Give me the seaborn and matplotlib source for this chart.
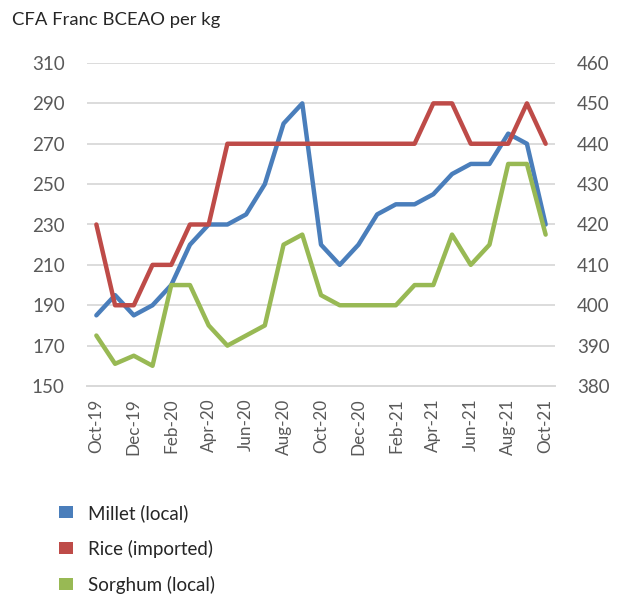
import matplotlib
matplotlib.use("Agg")
import matplotlib.pyplot as plt
import seaborn as sns
import numpy as np
import pandas as pd
from matplotlib.patches import Patch

months = ["Oct-19", "Nov-19", "Dec-19", "Jan-20", "Feb-20", "Mar-20", "Apr-20", "May-20",
          "Jun-20", "Jul-20", "Aug-20", "Sep-20", "Oct-20", "Nov-20", "Dec-20", "Jan-21",
          "Feb-21", "Mar-21", "Apr-21", "May-21", "Jun-21", "Jul-21", "Aug-21", "Sep-21", "Oct-21"]
millet = [185, 195, 185, 190, 200, 220, 230, 230, 235, 250, 280, 290, 220, 210, 220, 235,
          240, 240, 245, 255, 260, 260, 275, 270, 230]
sorghum = [175, 161, 165, 160, 200, 200, 180, 170, 175, 180, 220, 225, 195, 190, 190, 190,
           190, 200, 200, 225, 210, 220, 260, 260, 225]
rice = [420, 400, 400, 410, 410, 420, 420, 440, 440, 440, 440, 440, 440, 440, 440, 440,
        440, 440, 450, 450, 440, 440, 440, 450, 440]
left_ticks = [150, 170, 190, 210, 230, 250, 270, 290, 310]
right_ticks = [380, 390, 400, 410, 420, 430, 440, 450, 460]
labels = ["Millet (local)", "Rice (imported)", "Sorghum (local)"]
colors = ["#4A7EBB", "#BE4B48", "#98B954"]

sns.set_theme(style="white")
plt.rcParams['font.family'] = ['Lato', 'DejaVu Sans']
txt = "#595959"
grid = "#D9D9D9"

df = pd.DataFrame({"idx": np.arange(len(months)), "month": months,
                   "millet": millet, "sorghum": sorghum, "rice": rice})

fig = plt.figure(figsize=(6.3, 5.94), dpi=100)
ax = fig.add_axes([87/630, 1-386/594, (555-87)/630, (386-63)/594])
ax2 = ax.twinx()

sns.lineplot(data=df, x="idx", y="millet", ax=ax, color=colors[0], lw=3.2, zorder=3)
sns.lineplot(data=df, x="idx", y="sorghum", ax=ax, color=colors[2], lw=3.2, zorder=3)
sns.lineplot(data=df, x="idx", y="rice", ax=ax2, color=colors[1], lw=3.2, zorder=3)

ax.set_ylim(150, 310)
ax2.set_ylim(380, 460)
ax.set_xlim(-0.5, len(months) - 0.5)
ax.set_yticks(left_ticks)
ax2.set_yticks(right_ticks)
ax.set_xticks(np.arange(0, len(months), 2))
ax.set_xticklabels(months[::2], rotation=90)
ax.set_xticks(np.arange(-0.5, len(months) - 0.5, 2), minor=True)
ax.tick_params(axis="x", which="major", length=0, pad=9, labelsize=12.3, labelcolor=txt)
ax.tick_params(axis="x", which="minor", length=6, width=1.2, color=grid, direction="out")
ax.tick_params(axis="y", length=0, pad=16, labelsize=13.5, labelcolor=txt)
ax2.tick_params(axis="y", length=0, pad=16, labelsize=13.5, labelcolor=txt)
ax.set_xlabel("")
ax.set_ylabel("")
ax2.set_ylabel("")
ax.yaxis.grid(True, color=grid, lw=1.3)
ax.set_axisbelow(True)
for a in (ax, ax2):
    for s in ("top", "left", "right"):
        a.spines[s].set_visible(False)
    a.spines["bottom"].set_color(grid)
    a.spines["bottom"].set_linewidth(1.3)

fig.text(12/630, 1-20/594, "CFA Franc BCEAO per kg", fontsize=13.3, color="#262626",
         va="center", ha="left")

handles = [Patch(facecolor=c, edgecolor="none") for c in colors]
fig.legend(handles, labels, loc="upper left", bbox_to_anchor=(42/630, 1-487/594),
           frameon=False, fontsize=13.5, handlelength=0.75, handleheight=0.65,
           handletextpad=0.8, labelspacing=0.95, labelcolor="#262626")

fig.savefig("out.png", dpi=100)
